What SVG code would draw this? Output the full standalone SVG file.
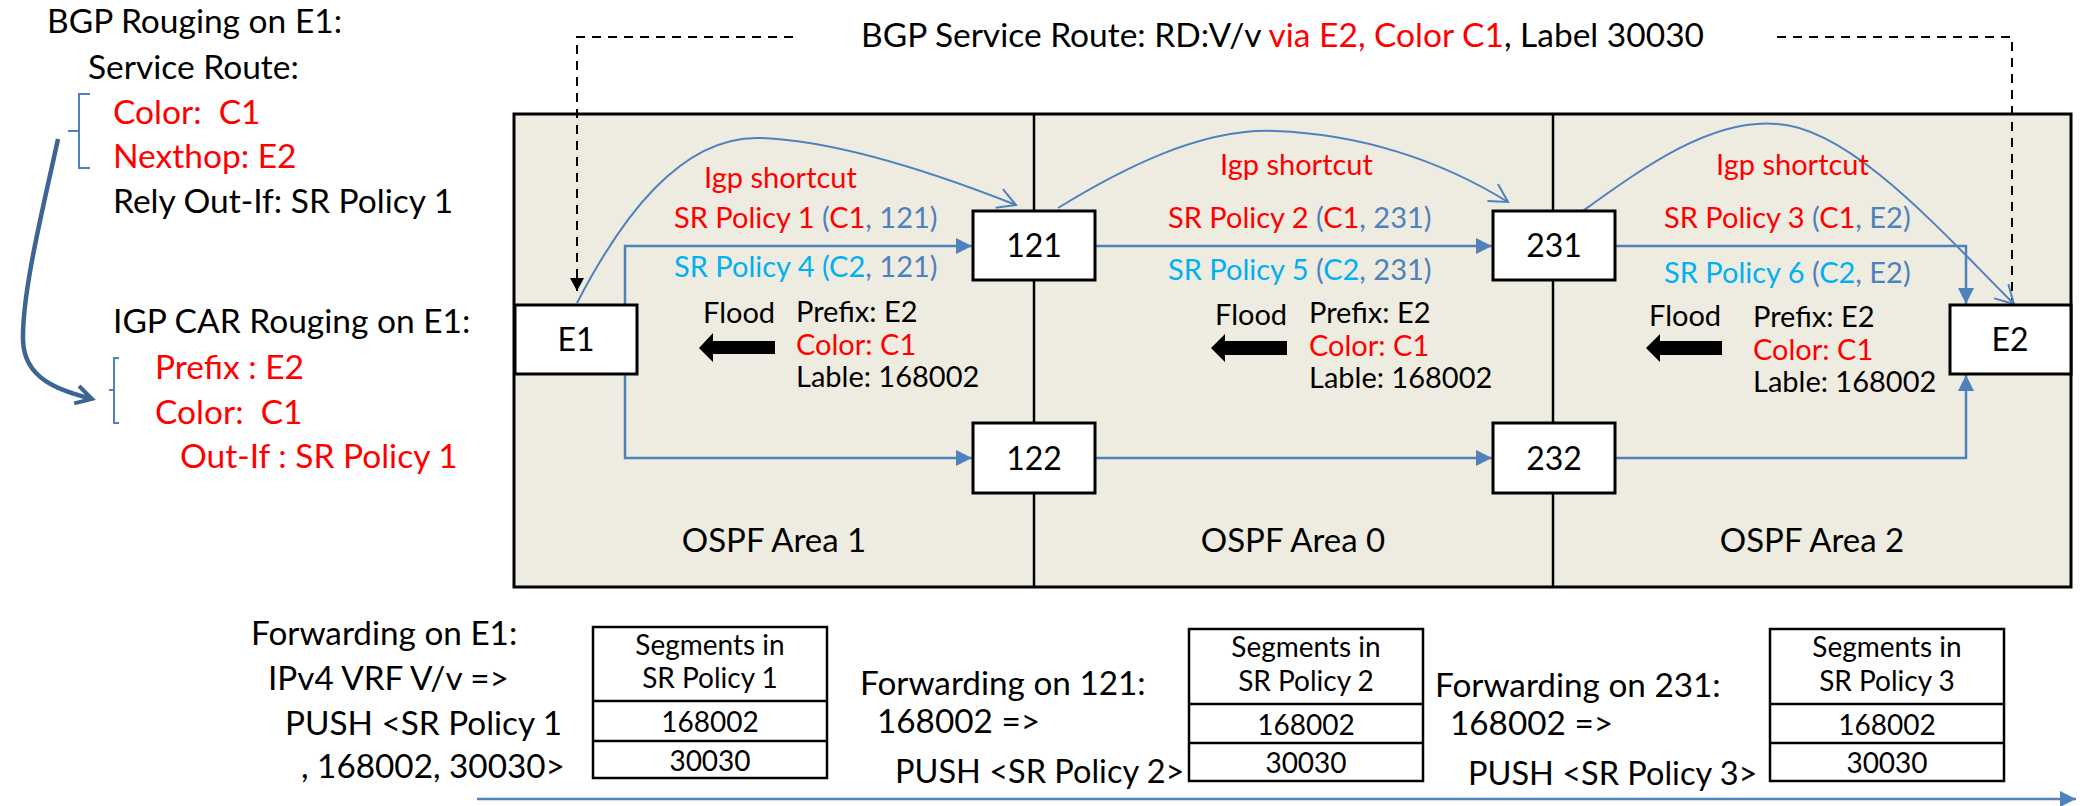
<svg xmlns="http://www.w3.org/2000/svg" width="2090" height="806" viewBox="0 0 2090 806">
<style>
text{font-family:Lato,"Open Sans","Liberation Sans",sans-serif;font-size:29px;fill:#000;white-space:pre}
.r{fill:#FF0000}.c{fill:#00B0F0}.b{fill:#4F81BD}
.m{text-anchor:middle}
.lp text{font-size:33.5px}
.big{font-size:33.5px}
.fw text{font-size:33.3px}
.fw text.push{font-size:32.5px}
.area{font-size:33px}
.node rect{fill:#fff;stroke:#000;stroke-width:3}
.node text{font-size:32px;text-anchor:middle}
.conn{fill:none;stroke:#4F81BD;stroke-width:2.5}
.curve{fill:none;stroke:#4F81BD;stroke-width:2}
.dash{fill:none;stroke:#000;stroke-width:2;stroke-dasharray:9,7}
.tbl rect,.tbl line{fill:#fff;stroke:#000;stroke-width:2.5}
.tbl text{font-size:28px}
.brk{fill:none;stroke:#4F81BD;stroke-width:2}
</style>
<defs>
<marker id="fa" markerUnits="userSpaceOnUse" markerWidth="17" markerHeight="16" refX="16" refY="8" orient="auto"><path d="M0,0 L16,8 L0,16 z" fill="#4F81BD"/></marker>
<marker id="oa" markerUnits="userSpaceOnUse" markerWidth="22" markerHeight="22" refX="19" refY="11" orient="auto"><path d="M1,1 L19,11 L1,21" fill="none" stroke="#4F81BD" stroke-width="2"/></marker>
<marker id="ka" markerUnits="userSpaceOnUse" markerWidth="14" markerHeight="14" refX="13" refY="7" orient="auto"><path d="M0,0 L13,7 L0,14 z" fill="#000"/></marker>
<marker id="da" markerUnits="userSpaceOnUse" markerWidth="24" markerHeight="24" refX="18" refY="12" orient="auto"><path d="M2,3 L18,12 L2,21" fill="none" stroke="#3D6594" stroke-width="4"/></marker>
</defs>

<g id="areas">
<rect x="514" y="114" width="1557" height="473" fill="#EEECE1" stroke="#000" stroke-width="3"/>
<line x1="1034" y1="114" x2="1034" y2="587" stroke="#000" stroke-width="2.5"/>
<line x1="1553" y1="114" x2="1553" y2="587" stroke="#000" stroke-width="2.5"/>
<text class="m area" x="774" y="552">OSPF Area 1</text>
<text class="m area" x="1293" y="552">OSPF Area 0</text>
<text class="m area" x="1812" y="552">OSPF Area 2</text>
</g>

<g id="left-panel" class="lp">
<text x="47" y="33">BGP Rouging on E1:</text>
<text x="88" y="79">Service Route:</text>
<text class="r" x="113" y="124">Color:  C1</text>
<text class="r" x="113" y="168">Nexthop: E2</text>
<text x="113" y="213">Rely Out-If: SR Policy 1</text>
<text x="113" y="333">IGP CAR Rouging on E1:</text>
<text class="r" x="155" y="379">Prefix : E2</text>
<text class="r" x="155" y="424">Color:  C1</text>
<text class="r" x="180" y="468">Out-If : SR Policy 1</text>
<path class="brk" d="M90,94 H79 V131 H68 M79,131 V168 H90"/>
<path class="brk" d="M119,358 H114 V390 H109 M114,390 V423 H119"/>
<path d="M58,139 C45,200 22,290 23,340 C24,380 60,390 92,399" fill="none" stroke="#3D6594" stroke-width="4.5" marker-end="url(#da)"/>
</g>

<g id="title">
<text class="big" x="861" y="47">BGP Service Route: RD:V/v <tspan class="r">via E2, Color C1</tspan>, Label 30030</text>
</g>

<g id="connectors">
<path class="dash" d="M793,37 H577 V291" marker-end="url(#ka)"/>
<path class="dash" d="M1777,37 H2012 V300"/>
<path class="conn" d="M625,305 V246 H972" marker-end="url(#fa)"/>
<path class="conn" d="M1095,246 H1492" marker-end="url(#fa)"/>
<path class="conn" d="M1615,246 H1966 V304" marker-end="url(#fa)"/>
<path class="conn" d="M625,374 V458 H972" marker-end="url(#fa)"/>
<path class="conn" d="M1095,458 H1492" marker-end="url(#fa)"/>
<path class="conn" d="M1615,458 H1966 V375" marker-end="url(#fa)"/>
<path class="curve" d="M577,303 C620,220 680,135 761,138 C840,141 940,175 1016,205" marker-end="url(#oa)"/>
<path class="curve" d="M1058,208 C1120,170 1200,128 1275,131 C1360,134 1440,160 1508,202" marker-end="url(#oa)"/>
<path class="curve" d="M1580,213 C1640,170 1710,118 1777,124 C1850,128 1940,230 2014,304" marker-end="url(#oa)"/>
<path class="conn" d="M477,799 H2076" marker-end="url(#fa)"/>
</g>

<g id="labels-area1">
<text class="r" x="704" y="188">Igp shortcut</text>
<text x="674" y="228"><tspan class="r">SR Policy 1 </tspan><tspan class="b">(</tspan><tspan class="r">C1</tspan><tspan class="b">, 121)</tspan></text>
<text x="674" y="277"><tspan class="c">SR Policy 4 (C2</tspan><tspan class="b">, 121)</tspan></text>
<text x="703" y="323">Flood</text>
<polygon points="699,348 713,333 713,341 775,341 775,354 713,354 713,362" fill="#000"/>
<text x="796" y="322">Prefix: E2</text>
<text class="r" x="796" y="355">Color: C1</text>
<text x="796" y="387">Lable: 168002</text>
</g>

<g id="labels-area0">
<text class="r" x="1220" y="175">Igp shortcut</text>
<text x="1168" y="228"><tspan class="r">SR Policy 2 </tspan><tspan class="b">(</tspan><tspan class="r">C1</tspan><tspan class="b">, 231)</tspan></text>
<text x="1168" y="280"><tspan class="c">SR Policy 5 </tspan><tspan class="b">(</tspan><tspan class="c">C2</tspan><tspan class="b">, 231)</tspan></text>
<text x="1215" y="325">Flood</text>
<polygon points="1211,348 1225,334 1225,341 1287,341 1287,355 1225,355 1225,362" fill="#000"/>
<text x="1309" y="323">Prefix: E2</text>
<text class="r" x="1309" y="356">Color: C1</text>
<text x="1309" y="388">Lable: 168002</text>
</g>

<g id="labels-area2">
<text class="r" x="1716" y="175">Igp shortcut</text>
<text x="1664" y="228"><tspan class="r">SR Policy 3 </tspan><tspan class="b">(</tspan><tspan class="r">C1</tspan><tspan class="b">, E2)</tspan></text>
<text x="1664" y="283"><tspan class="c">SR Policy 6 </tspan><tspan class="b">(</tspan><tspan class="c">C2</tspan><tspan class="b">, E2)</tspan></text>
<text x="1649" y="326">Flood</text>
<polygon points="1646,348 1660,334 1660,341 1722,341 1722,355 1660,355 1660,362" fill="#000"/>
<text x="1753" y="327">Prefix: E2</text>
<text class="r" x="1753" y="360">Color: C1</text>
<text x="1753" y="392">Lable: 168002</text>
</g>

<g id="node-E1" class="node"><rect x="515" y="305" width="122" height="69"/><text x="576" y="351">E1</text></g>
<g id="node-121" class="node"><rect x="973" y="211" width="122" height="69"/><text x="1034" y="257">121</text></g>
<g id="node-122" class="node"><rect x="973" y="423" width="122" height="70"/><text x="1034" y="470">122</text></g>
<g id="node-231" class="node"><rect x="1493" y="211" width="122" height="69"/><text x="1554" y="257">231</text></g>
<g id="node-232" class="node"><rect x="1493" y="423" width="122" height="70"/><text x="1554" y="470">232</text></g>
<g id="node-E2" class="node"><rect x="1950" y="305" width="121" height="69"/><text x="2010" y="351">E2</text></g>

<g id="fwd-E1" class="fw">
<text x="251" y="645">Forwarding on E1:</text>
<text x="268" y="690">IPv4 VRF V/v =&gt;</text>
<text x="285" y="735">PUSH &lt;SR Policy 1</text>
<text x="301" y="778">, 168002, 30030&gt;</text>
</g>
<g id="table-1" class="tbl">
<rect x="593" y="627" width="234" height="151"/>
<line x1="593" y1="701" x2="827" y2="701"/>
<line x1="593" y1="741" x2="827" y2="741"/>
<text class="m" x="710" y="655">Segments in</text>
<text class="m" x="710" y="688">SR Policy 1</text>
<text class="m" x="710" y="732">168002</text>
<text class="m" x="710" y="771">30030</text>
</g>
<g id="fwd-121" class="fw">
<text x="860" y="695">Forwarding on 121:</text>
<text x="877" y="733">168002 =&gt;</text>
<text class="push" x="895" y="783">PUSH &lt;SR Policy 2&gt;</text>
</g>
<g id="table-2" class="tbl">
<rect x="1189" y="629" width="234" height="152"/>
<line x1="1189" y1="704" x2="1423" y2="704"/>
<line x1="1189" y1="743" x2="1423" y2="743"/>
<text class="m" x="1306" y="657">Segments in</text>
<text class="m" x="1306" y="691">SR Policy 2</text>
<text class="m" x="1306" y="735">168002</text>
<text class="m" x="1306" y="773">30030</text>
</g>
<g id="fwd-231" class="fw">
<text x="1435" y="697">Forwarding on 231:</text>
<text x="1450" y="735">168002 =&gt;</text>
<text class="push" x="1468" y="785">PUSH &lt;SR Policy 3&gt;</text>
</g>
<g id="table-3" class="tbl">
<rect x="1770" y="629" width="234" height="152"/>
<line x1="1770" y1="704" x2="2004" y2="704"/>
<line x1="1770" y1="743" x2="2004" y2="743"/>
<text class="m" x="1887" y="657">Segments in</text>
<text class="m" x="1887" y="691">SR Policy 3</text>
<text class="m" x="1887" y="735">168002</text>
<text class="m" x="1887" y="773">30030</text>
</g>
</svg>
